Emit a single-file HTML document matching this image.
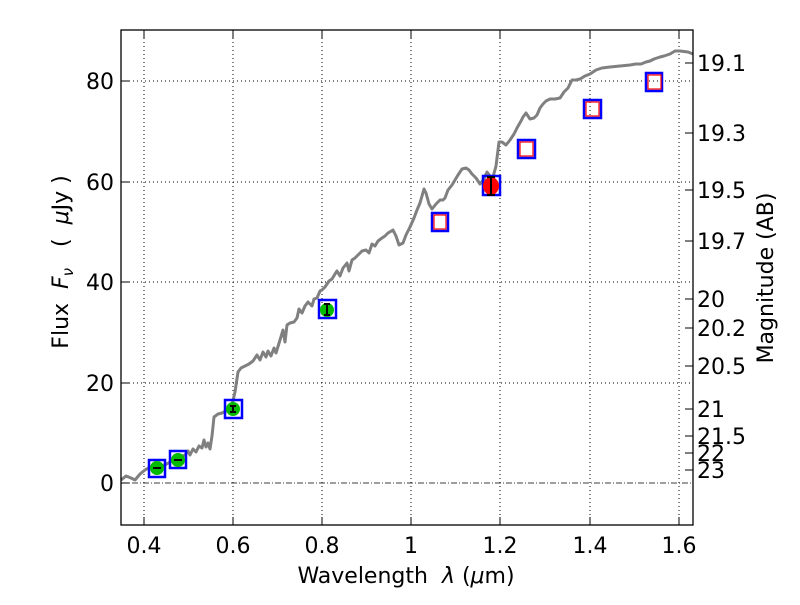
<!DOCTYPE html>
<html><head><meta charset="utf-8"><style>
body{margin:0;background:#fff;}
svg text{font-family:"DejaVu Sans","Liberation Sans",sans-serif;fill:#000;white-space:pre;}
</style></head><body>
<svg width="800" height="600" viewBox="0 0 800 600" xmlns="http://www.w3.org/2000/svg">
<rect width="800" height="600" fill="#fff"/>
<g stroke="#000" stroke-width="1" stroke-dasharray="1,3">
<line x1="144" y1="30" x2="144" y2="525"/><line x1="233" y1="30" x2="233" y2="525"/>
<line x1="322" y1="30" x2="322" y2="525"/><line x1="411" y1="30" x2="411" y2="525"/>
<line x1="500" y1="30" x2="500" y2="525"/><line x1="590" y1="30" x2="590" y2="525"/>
<line x1="679" y1="30" x2="679" y2="525"/>
<line x1="121" y1="81" x2="693" y2="81"/><line x1="121" y1="182" x2="693" y2="182"/>
<line x1="121" y1="282" x2="693" y2="282"/><line x1="121" y1="383" x2="693" y2="383"/>
</g>
<line x1="121" y1="483" x2="693" y2="483" stroke="#000" stroke-width="0.8" stroke-dasharray="6,2,1,2"/>
<polyline fill="none" stroke="#808080" stroke-width="3" stroke-linejoin="round" points="121,480 126,476 131,478 135,480 140,474 145,470 150,467 155,466 160,466 165,465 170,462 175,459 180,457 185,455 188,451 190,455 193,449 196,452 199,446 202,448 204,440 206,447 208,443 210,449 212,436 214,417 218,414 222,413 226,411 230,411 232,405 235,392 238,372 241,368 245,366 249,364 253,361 257,355 260,360 263,352 266,357 268,351 271,356 274,348 276,353 280,340 283,330 285,342 287,325 290,323 294,322 297,318 299,309 302,313 305,306 308,302 312,306 314,299 317,298 320,291 322,290 325,287 329,281 332,279 335,274 337,271 340,276 343,268 347,263 349,271 352,260 355,258 358,255 362,251 366,250 369,253 372,244 375,246 378,241 382,238 385,236 388,233 393,230 396,236 399,245 403,243 406,235 410,227 414,218 417,210 420,203 424,189 426,193 429,204 432,209 436,204 440,200 443,200 445,198 448,190 452,185 455,180 458,175 462,169 466,168 469,170 472,174 476,178 480,184 484,179 487,172 490,176 493,177 496,166 499,142 502,142 506,145 510,140 514,134 517,128 521,121 523,117 526,113 530,119 534,118 537,115 540,108 543,104 546,101 550,99 555,99 560,98 564,92 568,88 572,80 576,80 580,79 585,76 590,74 596,70 602,68 610,67 620,66 630,65 636,64 641,64 646,62 650,61 654,59 660,57 664,56 670,54 675,51 680,51 688,52 693,54"/>
<g fill="none" stroke="#0000ff" stroke-width="2.5">
<rect x="149" y="460" width="16" height="17"/><rect x="170" y="451" width="16" height="17"/>
<rect x="225" y="400" width="17" height="18"/><rect x="319" y="300" width="17" height="18"/>
<rect x="432" y="213" width="16" height="18"/><rect x="483" y="176" width="17" height="19"/>
<rect x="518" y="140" width="17" height="18"/><rect x="584" y="100" width="17" height="18"/>
<rect x="646" y="73" width="16" height="18"/>
</g>
<g fill="#00bb00"><circle cx="157" cy="468" r="7"/><circle cx="178" cy="460" r="7"/><circle cx="233" cy="409" r="7"/><circle cx="327" cy="310" r="7"/></g>
<ellipse cx="491" cy="186" rx="8" ry="9" fill="#ff0000"/>
<g fill="none" stroke="#ff0000" stroke-width="1.2">
<rect x="434" y="215" width="12" height="14"/><rect x="520" y="142" width="13" height="14"/>
<rect x="586" y="102" width="13" height="14"/><rect x="648" y="75" width="13" height="14"/>
</g>
<g stroke="#000" stroke-width="2">
<line x1="153" y1="468" x2="161" y2="468"/><line x1="174" y1="460" x2="182" y2="460"/>
<line x1="233" y1="406" x2="233" y2="412"/><line x1="230" y1="406" x2="236" y2="406"/><line x1="230" y1="412" x2="236" y2="412"/>
<line x1="327" y1="304" x2="327" y2="315"/><line x1="324" y1="304" x2="330" y2="304"/><line x1="324" y1="315" x2="330" y2="315"/>
<line x1="491" y1="177" x2="491" y2="195"/><line x1="487" y1="177" x2="495" y2="177"/><line x1="487" y1="195" x2="495" y2="195"/>
</g>
<rect x="121" y="30" width="572" height="495" fill="none" stroke="#000" stroke-width="1.3"/>
<g stroke="#000" stroke-width="1">
<path d="M144 525v-8M233 525v-8M322 525v-8M411 525v-8M500 525v-8M590 525v-8M679 525v-8M144 30v8M233 30v8M322 30v8M411 30v8M500 30v8M590 30v8M679 30v8"/>
<path d="M121 81h8M121 182h8M121 282h8M121 383h8M121 483h8"/>
<path d="M693 63h-8M693 133h-8M693 190h-8M693 241h-8M693 299h-8M693 328h-8M693 366h-8M693 409h-8M693 436h-8M693 453h-8M693 470h-8"/>
</g>
<g font-size="22" text-anchor="middle">
<text x="144" y="553">0.4</text><text x="233" y="553">0.6</text><text x="322" y="553">0.8</text>
<text x="411" y="553">1</text><text x="500" y="553">1.2</text><text x="590" y="553">1.4</text><text x="679" y="553">1.6</text>
</g>
<g font-size="22" text-anchor="end">
<text x="114" y="89">80</text><text x="114" y="190">60</text><text x="114" y="290">40</text>
<text x="114" y="391">20</text><text x="114" y="491">0</text>
</g>
<g font-size="22">
<text x="697" y="71">19.1</text><text x="697" y="141">19.3</text><text x="697" y="198">19.5</text>
<text x="697" y="249">19.7</text><text x="697" y="307">20</text><text x="697" y="336">20.2</text>
<text x="697" y="374">20.5</text><text x="697" y="417">21</text><text x="697" y="444">21.5</text>
<text x="697" y="461">22</text><text x="697" y="478">23</text>
</g>
<text x="406" y="583" font-size="22" text-anchor="middle">Wavelength  <tspan font-style="italic">λ</tspan> (<tspan font-style="italic">μ</tspan>m)</text>
<text transform="translate(68,262) rotate(-90)" font-size="22" text-anchor="middle">Flux  <tspan font-style="italic">F</tspan><tspan font-style="italic" font-size="15" dy="5">ν</tspan><tspan dy="-5">   (  </tspan><tspan font-style="italic">μ</tspan>Jy )</text>
<text transform="translate(773,278) rotate(-90)" font-size="22" text-anchor="middle">Magnitude (AB)</text>
</svg>
</body></html>
